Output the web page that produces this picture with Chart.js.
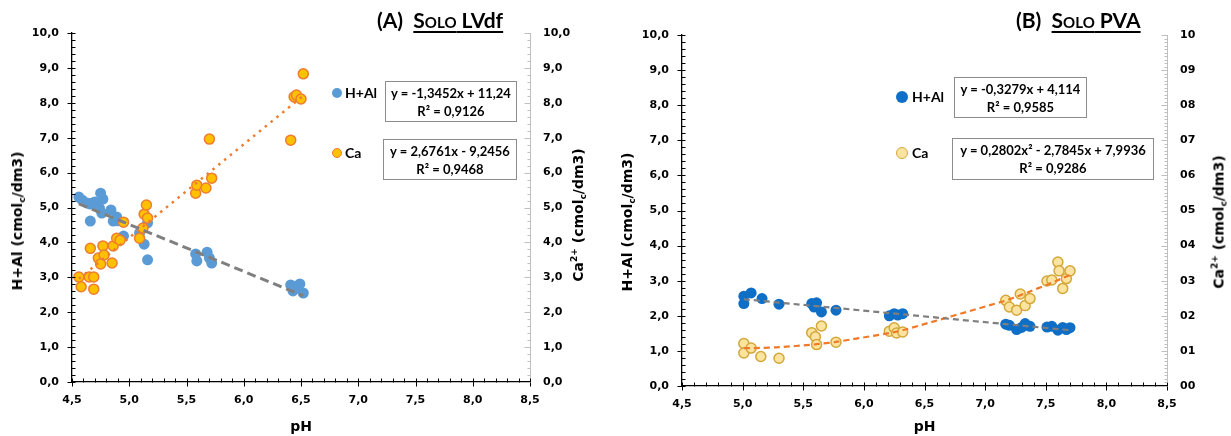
<!DOCTYPE html>
<html lang="pt">
<head>
<meta charset="UTF-8">
<title>H+Al e Ca x pH</title>
<script src="https://cdn.jsdelivr.net/npm/chart.js"></script>
<style>
  body { margin: 0; background: #fff; }
  #wrap { position: relative; width: 1231px; height: 436px; overflow: hidden; font-family: Lato, sans-serif; color: #000; }
  canvas { position: absolute; top: 0; }
  .ttl { position: absolute; font: bold 21px Lato, sans-serif; white-space: nowrap; }
  .ttl u { text-decoration-thickness: 2px; text-underline-offset: 3px; }
  .leg { position: absolute; font: bold 14px Lato, sans-serif; white-space: nowrap; line-height: 16px; }
  .dot { position: absolute; border-radius: 50%; box-sizing: border-box; }
  .eq { position: absolute; box-sizing: border-box; border: 1px solid #8c8c8c; background: #fff; font: bold 13px Lato, sans-serif; text-align: center; line-height: 18px; padding-top: 2px; white-space: nowrap; }
  .ytl { position: absolute; transform: translate(-50%, -50%) rotate(-90deg); font: bold 14px "DejaVu Sans", sans-serif; white-space: nowrap; }
  .ytl sub { font-size: 9px; vertical-align: -3px; }
  .ytl sup { font-size: 9px; vertical-align: 6px; }
</style>
</head>
<body>
<div id="wrap">
  <canvas id="chartA" width="615" height="436" style="left:0"></canvas>
  <canvas id="chartB" width="616" height="436" style="left:615px"></canvas>

  <!-- painel A -->
  <div class="ttl" style="left:377px;top:7px">(A)&nbsp;&nbsp;<u><span style="font-variant:small-caps">Solo</span> LVdf</u></div>
  <div class="ytl" style="left:18px;top:221px">H+Al (cmol<sub>c</sub>/dm3)</div>
  <div class="ytl" style="left:578px;top:215px">Ca<sup>2+</sup> (cmol<sub>c</sub>/dm3)</div>
  <div class="dot" style="left:332px;top:88px;width:10px;height:10px;background:#5B9BD5"></div>
  <div class="leg" style="left:345px;top:85px">H+Al</div>
  <div class="dot" style="left:332px;top:148px;width:10px;height:10px;background:#FFC000;border:1.5px solid #ED7D31"></div>
  <div class="leg" style="left:345px;top:145px">Ca</div>
  <div class="eq" style="left:385px;top:81px;width:132px;height:41px">y = -1,3452x + 11,24<br>R² = 0,9126</div>
  <div class="eq" style="left:383px;top:139px;width:134px;height:41px">y = 2,6761x - 9,2456<br>R² = 0,9468</div>

  <!-- painel B -->
  <div class="ttl" style="left:1016px;top:7px">(B)&nbsp;&nbsp;<u><span style="font-variant:small-caps">Solo</span> PVA</u></div>
  <div class="ytl" style="left:628px;top:222px">H+Al (cmol<sub>c</sub>/dm3)</div>
  <div class="ytl" style="left:1219px;top:222px">Ca<sup>2+</sup> (cmol<sub>c</sub>/dm3)</div>
  <div class="dot" style="left:896px;top:91px;width:12px;height:12px;background:#0F6FC6"></div>
  <div class="leg" style="left:912px;top:89px">H+Al</div>
  <div class="dot" style="left:896px;top:147px;width:12px;height:12px;background:#FCE4A0;border:1.5px solid #D3A73A"></div>
  <div class="leg" style="left:912px;top:145px">Ca</div>
  <div class="eq" style="left:954px;top:77px;width:133px;height:41px">y = -0,3279x + 4,114<br>R² = 0,9585</div>
  <div class="eq" style="left:952px;top:138px;width:202px;height:42px">y = 0,2802x² - 2,7845x + 7,9936<br>R² = 0,9286</div>
</div>

<script>
// ---- dados ----
// (A) Solo LVdf
const phA_hal = [4.56, 4.59, 4.63, 4.66, 4.68, 4.70, 4.75, 4.77, 4.74, 4.66, 4.76, 4.84, 4.86, 4.89, 4.90,
                 4.95, 5.09, 5.13, 5.16, 5.16, 5.58, 5.59, 5.68, 5.70, 5.72, 6.41, 6.43, 6.47, 6.49, 6.52];
const halA    = [5.30, 5.21, 5.13, 5.10, 5.13, 5.16, 5.41, 5.24, 4.98, 4.61, 4.84, 4.93, 4.61, 4.73, 4.62,
                 4.18, 4.27, 3.95, 4.56, 3.50, 3.67, 3.47, 3.72, 3.55, 3.41, 2.78, 2.61, 2.70, 2.81, 2.55];
const phA_ca  = [4.56, 4.58, 4.65, 4.69, 4.69, 4.66, 4.73, 4.77, 4.78, 4.75, 4.85, 4.86, 4.89, 4.92, 4.95,
                 5.09, 5.12, 5.13, 5.15, 5.16, 5.58, 5.59, 5.67, 5.72, 5.70, 6.41, 6.44, 6.46, 6.50, 6.52];
const caA     = [3.01, 2.73, 3.01, 3.01, 2.66, 3.83, 3.55, 3.90, 3.64, 3.38, 3.41, 3.90, 4.12, 4.06, 4.58,
                 4.12, 4.41, 4.81, 5.07, 4.70, 5.41, 5.64, 5.56, 5.84, 6.96, 6.93, 8.17, 8.22, 8.11, 8.83];
// (B) Solo PVA
const phB_hal = [5.01, 5.01, 5.07, 5.16, 5.30, 5.57, 5.61, 5.59, 5.65, 5.77, 6.21, 6.25, 6.28, 6.32,
                 7.17, 7.20, 7.26, 7.30, 7.33, 7.37, 7.51, 7.55, 7.60, 7.64, 7.67, 7.70];
const halB    = [2.56, 2.35, 2.65, 2.49, 2.33, 2.35, 2.37, 2.25, 2.11, 2.16, 2.00, 2.06, 2.02, 2.06,
                 1.76, 1.73, 1.61, 1.67, 1.78, 1.70, 1.68, 1.70, 1.59, 1.67, 1.61, 1.66];
const phB_ca  = [5.01, 5.01, 5.07, 5.15, 5.30, 5.57, 5.60, 5.61, 5.65, 5.77, 6.21, 6.25, 6.27, 6.32,
                 7.17, 7.20, 7.26, 7.29, 7.33, 7.37, 7.51, 7.55, 7.60, 7.61, 7.64, 7.67, 7.70];
const caB     = [1.21, 0.94, 1.08, 0.84, 0.79, 1.52, 1.40, 1.18, 1.71, 1.25, 1.56, 1.66, 1.51, 1.54,
                 2.44, 2.25, 2.16, 2.62, 2.29, 2.49, 2.99, 3.02, 3.53, 3.28, 2.78, 3.06, 3.28];

// coeficientes das linhas de tendencia (do maior grau para o termo constante)
const fitA_hal = [-1.3452, 11.24];
const fitA_ca  = [2.6761, -9.2456];
const fitB_hal = [-0.3279, 4.114];
const fitB_ca  = [0.2802, -2.7845, 7.9936];

// eixo x e rotulos
const phMin = 4.5, phMax = 8.5, phStep = 0.5;

function pts(xs, ys) { return xs.map((x, i) => ({ x: x, y: ys[i] })); }
function poly(c, x) { return c.reduce((acc, k) => acc * x + k, 0); }
function trend(xs, c) {
  let u = [...new Set(xs)].sort((a, b) => a - b);
  if (c.length === 2) u = [u[0], u[u.length - 1]];
  return u.map(x => ({ x: x, y: poly(c, x) }));
}
const fmt1 = v => v.toFixed(1).replace('.', ',');

// marcas secundarias dos eixos
const minorTicks = {
  id: 'minorTicks',
  afterDraw(chart, args, o) {
    const ctx = chart.ctx, sx = chart.scales.x, sy = chart.scales.y, sr = chart.scales.y2;
    ctx.save();
    ctx.lineWidth = 1;
    ctx.strokeStyle = '#000';
    const y0 = Math.round(sx.top) + 0.5;
    for (let i = 0; i <= 40; i++) {
      const px = Math.round(sx.getPixelForValue(phMin + i * 0.1)) + 0.5;
      ctx.beginPath();
      ctx.moveTo(px, y0 - 4);
      ctx.lineTo(px, i % 5 === 0 ? y0 + 4 : y0);
      ctx.stroke();
    }
    const x0 = Math.round(sy.right) - 0.5;
    const nl = Math.round(10 / o.yStep);
    for (let i = 0; i <= nl; i++) {
      const py = Math.round(sy.getPixelForValue(i * o.yStep)) + 0.5;
      const major = Math.abs(i * o.yStep - Math.round(i * o.yStep)) < 1e-6;
      ctx.beginPath();
      ctx.moveTo(major ? x0 - 4 : x0, py);
      ctx.lineTo(x0 + 4, py);
      ctx.stroke();
    }
    ctx.strokeStyle = '#bfbfbf';
    const xr = Math.round(sr.left) + 0.5;
    const nr = Math.round(10 / o.y2Step);
    for (let i = 0; i <= nr; i++) {
      const py = Math.round(sr.getPixelForValue(i * o.y2Step)) + 0.5;
      const major = Math.abs(i * o.y2Step - Math.round(i * o.y2Step)) < 1e-6;
      ctx.beginPath();
      ctx.moveTo(xr - (major ? 6 : 3), py);
      ctx.lineTo(xr, py);
      ctx.stroke();
    }
    ctx.restore();
  }
};

const tickFont = { family: 'DejaVu Sans', size: 11, weight: 'bold' };

function buildChart(id, p) {
  return new Chart(document.getElementById(id), {
    type: 'scatter',
    data: { datasets: p.datasets },
    options: {
      responsive: false,
      animation: false,
      devicePixelRatio: 1,
      layout: { padding: { top: p.top, left: 0, right: 0, bottom: 0 } },
      plugins: {
        legend: { display: false },
        tooltip: { enabled: false },
        minorTicks: { yStep: p.yStep, y2Step: p.y2Step }
      },
      scales: {
        x: {
          type: 'linear', min: phMin, max: phMax,
          ticks: { stepSize: phStep, padding: 12, color: '#000', font: tickFont, maxRotation: 0, autoSkip: false, callback: fmt1 },
          grid: { display: false, drawTicks: false },
          border: { color: '#000', width: 1.3 },
          title: { display: true, text: 'pH', color: '#000', font: { family: 'DejaVu Sans', size: 14, weight: 'bold' }, padding: { top: 0, bottom: 0 } },
          afterFit: s => { s.height = p.bottom; }
        },
        y: {
          position: 'left', min: 0, max: 10,
          ticks: { stepSize: 1, padding: 13, color: '#000', font: tickFont, callback: fmt1 },
          grid: { display: false, drawTicks: false },
          border: { color: '#000', width: 1.3 },
          afterFit: s => { s.width = p.left; }
        },
        y2: {
          position: 'right', min: 0, max: 10,
          ticks: { stepSize: 1, padding: 13, color: '#000', font: tickFont, callback: p.rightFmt },
          grid: { display: false, drawTicks: false },
          border: { color: '#bfbfbf', width: 1 },
          afterFit: s => { s.width = p.right; }
        }
      }
    },
    plugins: [minorTicks]
  });
}

buildChart('chartA', {
  top: 33, left: 72, right: 85, bottom: 54, yStep: 0.2, y2Step: 0.2,
  rightFmt: fmt1,
  datasets: [
    { label: 'Linear (H+Al)', data: trend(phA_hal, fitA_hal), showLine: true, pointRadius: 0,
      borderColor: '#7F7F7F', borderWidth: 3, borderDash: [9, 5], yAxisID: 'y' },
    { label: 'Linear (Ca)', data: trend(phA_ca, fitA_ca), showLine: true, pointRadius: 0,
      borderColor: '#ED7D31', borderWidth: 2.5, borderDash: [2.5, 5], yAxisID: 'y2' },
    { label: 'Ca', data: pts(phA_ca, caA), pointRadius: 5, backgroundColor: '#FFC000',
      borderColor: '#ED7D31', borderWidth: 1.5, yAxisID: 'y2' },
    { label: 'H+Al', data: pts(phA_hal, halA), pointRadius: 5.5, backgroundColor: '#5B9BD5',
      borderWidth: 0, yAxisID: 'y' }
  ]
});

buildChart('chartB', {
  top: 35, left: 67, right: 64, bottom: 50, yStep: 0.2, y2Step: 0.1,
  rightFmt: v => String(Math.round(v)).padStart(2, '0'),
  datasets: [
    { label: 'Linear (H+Al)', data: trend(phB_hal, fitB_hal), showLine: true, pointRadius: 0,
      borderColor: '#7F7F7F', borderWidth: 2.2, borderDash: [6, 4], yAxisID: 'y' },
    { label: 'Polinomial (Ca)', data: trend(phB_ca, fitB_ca), showLine: true, pointRadius: 0, tension: 0.3,
      borderColor: '#F07A28', borderWidth: 2.2, borderDash: [6, 4], yAxisID: 'y2' },
    { label: 'Ca', data: pts(phB_ca, caB), pointRadius: 5, backgroundColor: '#FCE4A0',
      borderColor: '#D3A73A', borderWidth: 1.5, yAxisID: 'y2' },
    { label: 'H+Al', data: pts(phB_hal, halB), pointRadius: 5.5, backgroundColor: '#0F6FC6',
      borderWidth: 0, yAxisID: 'y' }
  ]
});
</script>
</body>
</html>
